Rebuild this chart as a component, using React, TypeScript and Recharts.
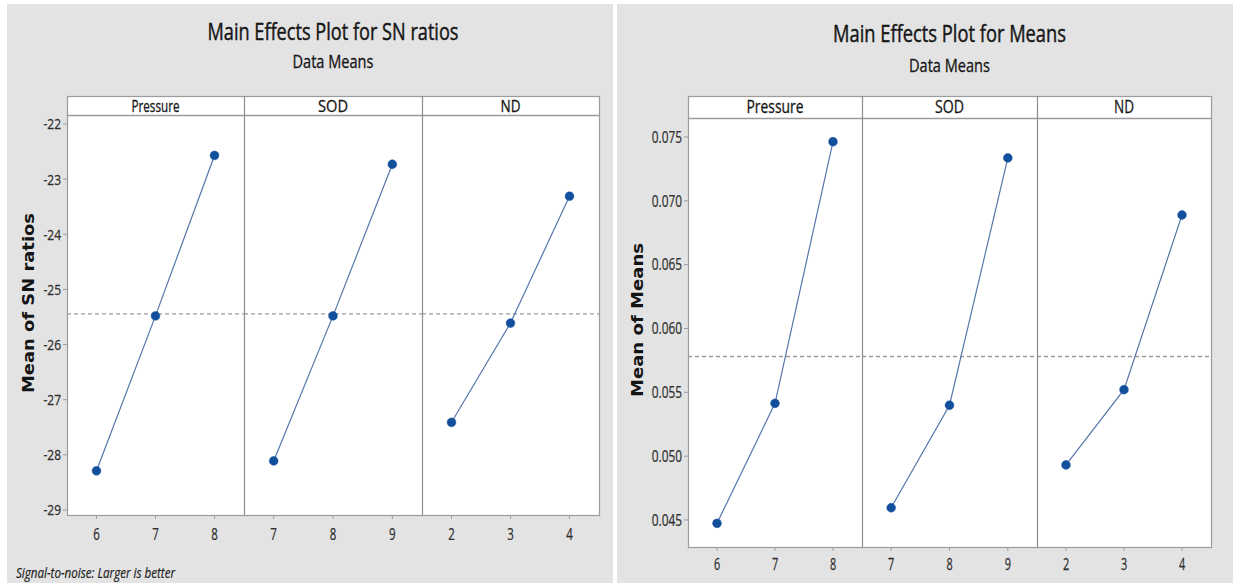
import React from 'react';
import { LineChart, Line, XAxis, YAxis, ReferenceLine } from 'recharts';

// ---------- data ----------
const factors = ['Pressure', 'SOD', 'ND'];
const pressureLevels = [6, 7, 8];
const sodLevels = [7, 8, 9];
const ndLevels = [2, 3, 4];

const snPressure = [-28.29, -25.48, -22.57];
const snSOD = [-28.11, -25.48, -22.73];
const snND = [-27.41, -25.61, -23.31];

const meanPressure = [0.04474, 0.05414, 0.07463];
const meanSOD = [0.04596, 0.05399, 0.07336];
const meanND = [0.04931, 0.05521, 0.06889];

const snTicks = [-29, -28, -27, -26, -25, -24, -23, -22];
const meanTicks = [0.045, 0.05, 0.055, 0.06, 0.065, 0.07, 0.075];

const levelSets = [pressureLevels, sodLevels, ndLevels];
const snSets = [snPressure, snSOD, snND];
const meanSets = [meanPressure, meanSOD, meanND];

const grandMean = (sets: number[][]) => {
  const all = sets.flat();
  return all.reduce((a, b) => a + b, 0) / all.length;
};

// ---------- styles ----------
const FONT = '"Open Sans", "Noto Sans", sans-serif';
const LINE_COLOR = '#5576ab';
const DOT_COLOR = '#124f9c';
const FRAME = '#9c9c9c';
const PANEL_BG = '#e3e3e3';
const TEXT = '#161616';
const TOP_PAD = 12;

type Panel = {
  bg: { x: number; y: number; w: number; h: number };
  edges: number[];
  stripTop: number;
  plotTop: number;
  plotBottom: number;
  yDomain: [number, number];
  yTicks: number[];
  fmt: (v: number) => string;
  values: number[][];
  title: string;
  titleBase: number;
  titleW: number;
  subBase: number;
  subW: number;
  stripW: number[];
  stripBase: number;
  stripSize: number;
  yLabel: string;
  yLabelCx: number;
  yLabelCy: number;
  yLabelLen: number;
  yTickSize: number;
  yTickScale: number;
  xTickSize: number;
  xTickScale: number;
  xTickMargin: number;
  yAxisW: number;
  note?: boolean;
};

const panels: Panel[] = [
  {
    bg: { x: 7, y: 4, w: 606, h: 579 },
    edges: [67, 244, 422, 599],
    stripTop: 96,
    plotTop: 115,
    plotBottom: 515,
    yDomain: [-29.091, -21.837],
    yTicks: snTicks,
    fmt: (v) => String(v),
    values: snSets,
    title: 'Main Effects Plot for SN ratios',
    titleBase: 40,
    titleW: 251,
    subBase: 68,
    subW: 81,
    stripW: [48, 30, 20],
    stripBase: 112,
    stripSize: 17,
    yLabel: 'Mean of SN ratios',
    yLabelCx: 28,
    yLabelCy: 303,
    yLabelLen: 180,
    yTickSize: 15,
    yTickScale: 0.8,
    xTickSize: 16,
    xTickScale: 0.72,
    xTickMargin: 10,
    yAxisW: 60,
    note: true,
  },
  {
    bg: { x: 617, y: 4, w: 616, h: 579 },
    edges: [688, 862, 1037, 1211],
    stripTop: 96,
    plotTop: 118,
    plotBottom: 547,
    yDomain: [0.042885, 0.076488],
    yTicks: meanTicks,
    fmt: (v) => v.toFixed(3),
    values: meanSets,
    title: 'Main Effects Plot for Means',
    titleBase: 42,
    titleW: 233,
    subBase: 72,
    subW: 81,
    stripW: [57, 29, 20],
    stripBase: 113,
    stripSize: 18,
    yLabel: 'Mean of Means',
    yLabelCx: 637,
    yLabelCy: 320,
    yLabelLen: 154,
    yTickSize: 16,
    yTickScale: 0.74,
    xTickSize: 16,
    xTickScale: 0.68,
    xTickMargin: 8,
    yAxisW: 60,
  },
];

const makeYTick = (p: Panel) => (props: any) => {
  const { x, y, payload } = props;
  return (
    <text
      transform={`translate(${x},${y}) scale(${p.yTickScale},1)`}
      textAnchor="end"
      dy="0.36em"
      fontSize={p.yTickSize}
      fontFamily={FONT}
      fill="#2e2e2e"
      stroke="#2e2e2e"
      strokeWidth={0.25}
    >
      {p.fmt(payload.value)}
    </text>
  );
};

const makeXTick = (p: Panel) => (props: any) => {
  const { x, y, payload } = props;
  return (
    <text
      transform={`translate(${x},${y}) scale(${p.xTickScale},1)`}
      textAnchor="middle"
      dy="0.71em"
      fontSize={p.xTickSize}
      fontFamily={FONT}
      fill="#2e2e2e"
      stroke="#2e2e2e"
      strokeWidth={0.25}
    >
      {payload.value}
    </text>
  );
};

function Facet({ p, i }: { p: Panel; i: number }) {
  const levels = levelSets[i];
  const vals = p.values[i];
  const data = levels.map((lv, k) => ({ level: lv, v: vals[k] }));
  const left = p.edges[i];
  const w = p.edges[i + 1] - p.edges[i];
  const yW = i === 0 ? p.yAxisW : 0;
  const plotH = p.plotBottom - p.plotTop;
  const xH = 40;
  const gm = grandMean(p.values);
  return (
    <div style={{ position: 'absolute', left: left - yW, top: p.plotTop - TOP_PAD }}>
      <LineChart
        width={w + yW}
        height={plotH + xH + TOP_PAD}
        data={data}
        margin={{ top: TOP_PAD, right: 0, bottom: 0, left: 0 }}
      >
        <XAxis
          type="number"
          dataKey="level"
          domain={[levels[0] - 0.5, levels[levels.length - 1] + 0.5]}
          ticks={levels}
          height={xH}
          axisLine={false}
          tickLine={{ stroke: FRAME }}
          tickSize={4}
          tickMargin={p.xTickMargin}
          tick={makeXTick(p)}
          allowDataOverflow
        />
        <YAxis
          type="number"
          domain={p.yDomain}
          ticks={p.yTicks}
          width={yW}
          hide={i !== 0}
          axisLine={false}
          tickLine={{ stroke: FRAME }}
          tickSize={4}
          tickMargin={2}
          tick={makeYTick(p)}
          allowDataOverflow
        />
        <ReferenceLine
          y={gm}
          stroke="#9a9a9a"
          strokeWidth={1.4}
          strokeDasharray="4 3"
          ifOverflow="extendDomain"
        />
        <Line
          type="linear"
          dataKey="v"
          stroke={LINE_COLOR}
          strokeWidth={1.2}
          dot={{ r: 4.4, fill: DOT_COLOR, stroke: DOT_COLOR, strokeWidth: 0.5 }}
          isAnimationActive={false}
        />
      </LineChart>
    </div>
  );
}

function PanelView({ p }: { p: Panel }) {
  return (
    <>
      <div
        style={{
          position: 'absolute',
          left: p.bg.x,
          top: p.bg.y,
          width: p.bg.w,
          height: p.bg.h,
          background: PANEL_BG,
        }}
      />
      <div
        style={{
          position: 'absolute',
          left: p.edges[0],
          top: p.stripTop,
          width: p.edges[3] - p.edges[0],
          height: p.plotBottom - p.stripTop,
          background: '#ffffff',
        }}
      />
      {[0, 1, 2].map((i) => (
        <Facet key={i} p={p} i={i} />
      ))}
    </>
  );
}

function Overlay() {
  return (
    <svg
      width={1233}
      height={583}
      style={{ position: 'absolute', left: 0, top: 0, pointerEvents: 'none' }}
    >
      {panels.map((p, pi) => {
        const cx = (p.edges[0] + p.edges[3]) / 2;
        return (
          <g key={pi}>
            <text
              x={cx}
              y={p.titleBase}
              textAnchor="middle"
              fontSize={24}
              fontFamily={FONT}
              fill={TEXT}
              stroke={TEXT}
              strokeWidth={0.45}
              textLength={p.titleW}
              lengthAdjust="spacingAndGlyphs"
            >
              {p.title}
            </text>
            <text
              x={cx}
              y={p.subBase}
              textAnchor="middle"
              fontSize={18}
              fontFamily={FONT}
              fill={TEXT}
              stroke={TEXT}
              strokeWidth={0.3}
              textLength={p.subW}
              lengthAdjust="spacingAndGlyphs"
            >
              Data Means
            </text>
            {/* plot frame */}
            <rect
              x={p.edges[0] + 0.5}
              y={p.stripTop + 0.5}
              width={p.edges[3] - p.edges[0]}
              height={p.plotBottom - p.stripTop}
              fill="none"
              stroke={FRAME}
              strokeWidth={1.2}
            />
            <line
              x1={p.edges[0]}
              x2={p.edges[3]}
              y1={p.plotTop + 0.5}
              y2={p.plotTop + 0.5}
              stroke={FRAME}
              strokeWidth={1.4}
            />
            {[1, 2].map((k) => (
              <line
                key={k}
                x1={p.edges[k] + 0.5}
                x2={p.edges[k] + 0.5}
                y1={p.stripTop}
                y2={p.plotBottom}
                stroke="#8e8e8e"
                strokeWidth={1.2}
              />
            ))}
            {factors.map((f, i) => (
              <text
                key={f}
                x={(p.edges[i] + p.edges[i + 1]) / 2}
                y={p.stripBase}
                textAnchor="middle"
                fontSize={p.stripSize}
                fontFamily={FONT}
                fill={TEXT}
                stroke={TEXT}
                strokeWidth={0.3}
                textLength={p.stripW[i]}
                lengthAdjust="spacingAndGlyphs"
              >
                {f}
              </text>
            ))}
            <text
              transform={`translate(${p.yLabelCx},${p.yLabelCy}) rotate(-90)`}
              textAnchor="middle"
              dy="0.36em"
              fontSize={16}
              fontWeight="bold"
              fontFamily='"DejaVu Sans", Verdana, sans-serif'
              fill="#141414"
              textLength={p.yLabelLen}
              lengthAdjust="spacingAndGlyphs"
            >
              {p.yLabel}
            </text>
            {p.note && (
              <text
                x={16}
                y={578}
                fontSize={14}
                fontStyle="italic"
                fontFamily={FONT}
                fill="#222"
                stroke="#222"
                strokeWidth={0.2}
                textLength={159}
                lengthAdjust="spacingAndGlyphs"
              >
                Signal-to-noise: Larger is better
              </text>
            )}
          </g>
        );
      })}
    </svg>
  );
}

export default function App() {
  return (
    <div
      style={{
        position: 'absolute',
        left: 0,
        top: 0,
        width: 1233,
        height: 583,
        background: '#ffffff',
        overflow: 'hidden',
      }}
    >
      {panels.map((p, i) => (
        <PanelView key={i} p={p} />
      ))}
      <Overlay />
    </div>
  );
}
